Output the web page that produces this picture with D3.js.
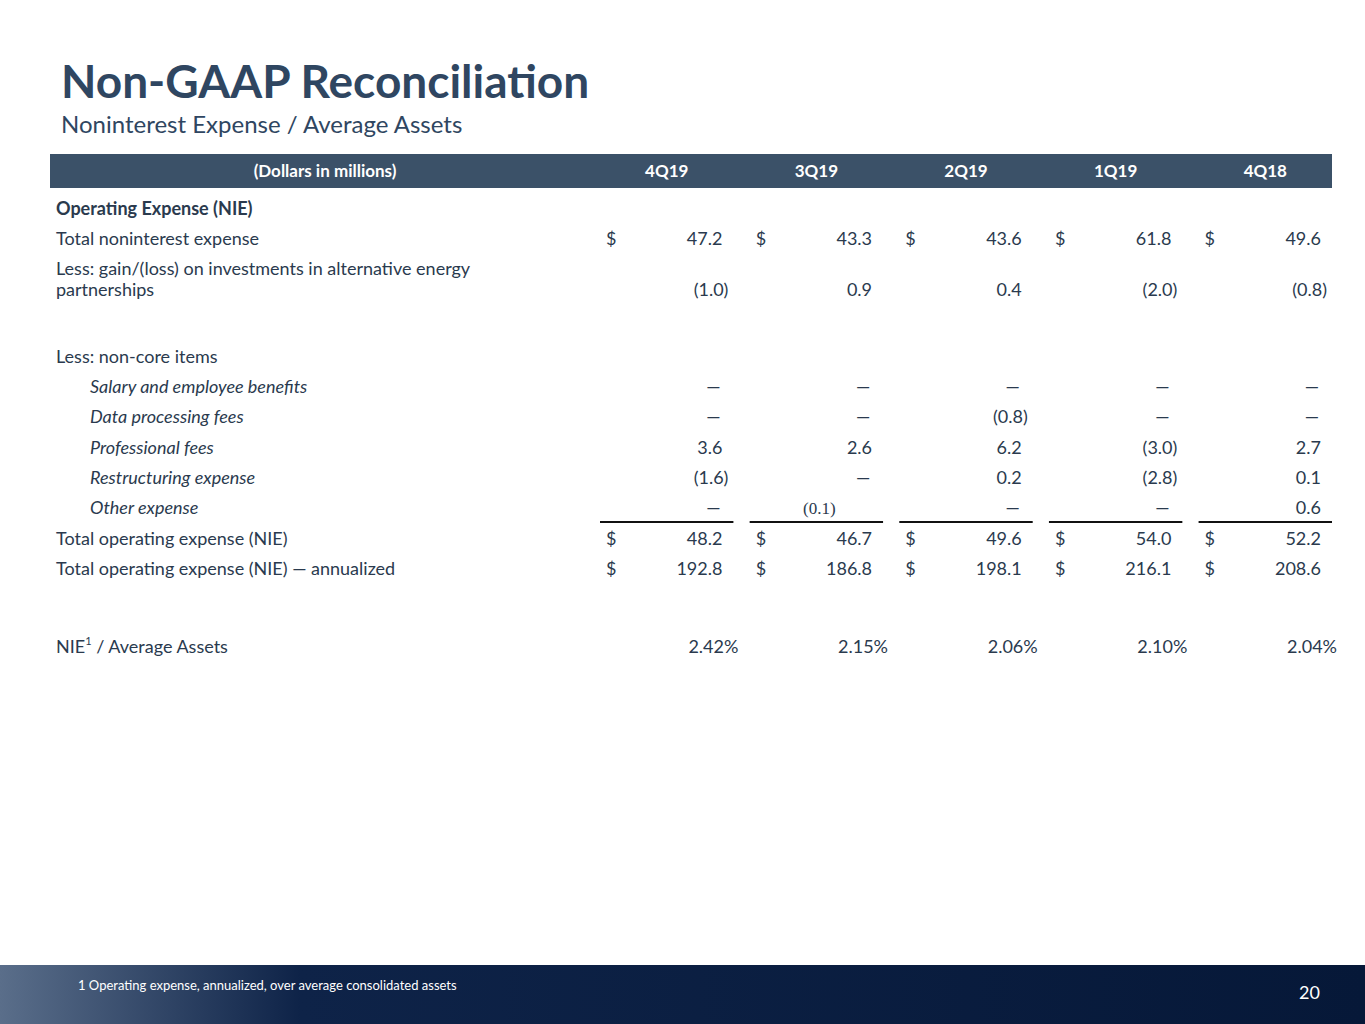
<!DOCTYPE html>
<html><head><meta charset="utf-8">
<script src="https://cdn.jsdelivr.net/npm/d3@7"></script>
<style>body{margin:0;background:#fff}text{font-family:Lato,"Open Sans",sans-serif}</style>
</head><body><svg id="c" width="1365" height="1024"></svg>
<script>
// Data
var quarters = ['4Q19', '3Q19', '2Q19', '1Q19', '4Q18'];
var totalNie = [47.2, 43.3, 43.6, 61.8, 49.6];
var altEnergy = [-1.0, 0.9, 0.4, -2.0, -0.8];
var salary = [0, 0, 0, 0, 0];
var dataProc = [0, 0, -0.8, 0, 0];
var profFees = [3.6, 2.6, 6.2, -3.0, 2.7];
var restruct = [-1.6, 0, 0.2, -2.8, 0.1];
var otherExp = [0, -0.1, 0, 0, 0.6];
var totalOp = [48.2, 46.7, 49.6, 54.0, 52.2];
var annualized = [192.8, 186.8, 198.1, 216.1, 208.6];
var nieRatio = [2.42, 2.15, 2.06, 2.10, 2.04];

var svg = d3.select('#c');
var ink = '#2a3a4e';

var x = d3.scaleBand().domain(quarters).range([596, 1336]).paddingInner(0.055);

// Header
svg.append('text').attr('x', 61).attr('y', 98).attr('font-size', 46).attr('font-weight', 700)
	.attr('fill', '#2f4661').text('Non-GAAP Reconciliation');
svg.append('text').attr('x', 61).attr('y', 133).attr('font-size', 24)
	.attr('fill', '#2f4661').text('Noninterest Expense / Average Assets');

svg.append('rect').attr('x', 50).attr('y', 154).attr('width', 1282).attr('height', 34).attr('fill', '#3b5168');
svg.append('text').attr('x', 325).attr('y', 177).attr('text-anchor', 'middle').attr('font-size', 17)
	.attr('font-weight', 700).attr('fill', '#fff').text('(Dollars in millions)');
svg.selectAll('.qh').data(quarters).enter().append('text')
	.attr('x', function(d) { return x(d) + x.bandwidth() / 2; }).attr('y', 177)
	.attr('text-anchor', 'middle').attr('font-size', 17).attr('font-weight', 700).attr('fill', '#fff')
	.text(function(d) { return d; });

// Row labels
var labels = [
	{t: 'Operating Expense (NIE)', y: 215, b: true},
	{t: 'Total noninterest expense', y: 245},
	{t: 'Less: gain/(loss) on investments in alternative energy', y: 275},
	{t: 'partnerships', y: 296},
	{t: 'Less: non-core items', y: 363},
	{t: 'Salary and employee benefits', y: 393, i: true},
	{t: 'Data processing fees', y: 423, i: true},
	{t: 'Professional fees', y: 454, i: true},
	{t: 'Restructuring expense', y: 484, i: true},
	{t: 'Other expense', y: 514, i: true},
	{t: 'Total operating expense (NIE)', y: 545},
	{t: 'Total operating expense (NIE) \u2014 annualized', y: 575}
];
svg.selectAll('.lab').data(labels).enter().append('text')
	.attr('x', function(d) { return d.i ? 90 : 56; }).attr('y', function(d) { return d.y; })
	.attr('font-size', 18).attr('fill', ink)
	.attr('font-weight', function(d) { return d.b ? 700 : 400; })
	.attr('font-style', function(d) { return d.i ? 'italic' : 'normal'; })
	.text(function(d) { return d.t; });
var nl = svg.append('text').attr('x', 56).attr('y', 653).attr('font-size', 18).attr('fill', ink);
nl.append('tspan').text('NIE');
nl.append('tspan').attr('dy', -8).attr('font-size', 11).text('1');
nl.append('tspan').attr('dy', 8).text(' / Average Assets');

// Values
var rows = [
	{v: totalNie, y: 245, dollar: true},
	{v: altEnergy, y: 296},
	{v: salary, y: 393},
	{v: dataProc, y: 423},
	{v: profFees, y: 454},
	{v: restruct, y: 484},
	{v: otherExp, y: 514},
	{v: totalOp, y: 545, dollar: true},
	{v: annualized, y: 575, dollar: true}
];
rows.forEach(function(r) {
	quarters.forEach(function(q, i) {
		var v = r.v[i], right = x(q) + x.bandwidth();
		if (r.dollar) svg.append('text').attr('x', x(q) + 10).attr('y', r.y).attr('font-size', 18)
			.attr('fill', ink).text('$');
		var t = svg.append('text').attr('y', r.y).attr('font-size', 18).attr('fill', ink);
		if (v === 0) t.attr('x', right - 24).attr('text-anchor', 'middle').text('\u2014');
		else if (v < 0 && r.v === otherExp) t.attr('x', x(q) + x.bandwidth() / 2 + 3).attr('text-anchor', 'middle')
			.style('font-family', '"Liberation Serif",serif').attr('font-size', 17).text('(' + d3.format('.1f')(-v) + ')');
		else if (v < 0) t.attr('x', right - 9).attr('text-anchor', 'end').text('(' + d3.format('.1f')(-v) + ')');
		else t.attr('x', right - 15).attr('text-anchor', 'end').text(d3.format('.1f')(v));
	});
});
svg.selectAll('.pct').data(quarters).enter().append('text')
	.attr('x', function(d) { return x(d) + x.bandwidth() + 1; }).attr('y', 653)
	.attr('text-anchor', 'end').attr('font-size', 18).attr('fill', ink)
	.text(function(d, i) { return d3.format('.2f')(nieRatio[i]) + '%'; });

// Subtotal rules
svg.selectAll('.rule').data(quarters).enter().append('line')
	.attr('x1', function(d) { return x(d) + 4; }).attr('x2', function(d) { return x(d) + x.bandwidth() - 4; })
	.attr('y1', 522).attr('y2', 522).attr('stroke', '#111').attr('stroke-width', 2);

// Footer
var defs = svg.append('defs');
var g = defs.append('linearGradient').attr('id', 'fg').attr('x1', 0).attr('x2', 1);
g.append('stop').attr('offset', '0').attr('stop-color', '#5a6e8a');
g.append('stop').attr('offset', '0.22').attr('stop-color', '#0e2348');
g.append('stop').attr('offset', '1').attr('stop-color', '#061838');
svg.append('rect').attr('x', 0).attr('y', 965).attr('width', 1365).attr('height', 59).attr('fill', 'url(#fg)');
svg.append('text').attr('x', 78).attr('y', 990).attr('font-size', 13).attr('fill', '#fff')
	.text('1 Operating expense, annualized, over average consolidated assets');
svg.append('text').attr('x', 1320).attr('y', 999).attr('text-anchor', 'end').attr('font-size', 18).attr('fill', '#fff').text('20');
</script></body></html>
